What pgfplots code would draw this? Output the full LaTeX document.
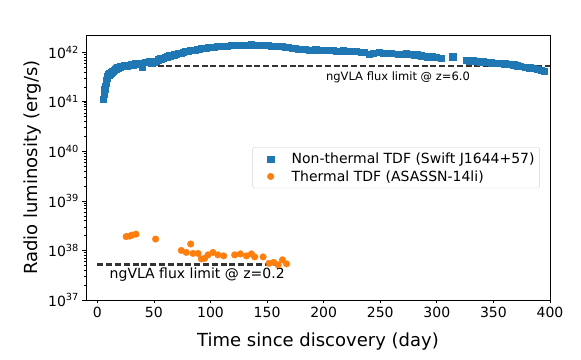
\documentclass[border=0pt]{standalone}
\usepackage{fontspec}
\setmainfont{DejaVu Sans}
\usepackage{pgfplots}
\pgfplotsset{compat=1.18}

\definecolor{tabblue}{HTML}{1F77B4}
\definecolor{taborange}{HTML}{FF7F0E}
\definecolor{limgray}{HTML}{333333}

\pgfplotsset{wideleg/.style={legend image code/.code={%
    \path[draw=none, fill=none] (0pt,-3pt) rectangle (34pt,3pt);
    \draw[##1] plot coordinates {(15pt,0pt)};}}}

\begin{document}
\begin{tikzpicture}
\begin{axis}[
    name=ax,
    scale only axis,
    width=464pt, height=265pt,
    xmin=-10, xmax=400,
    ymode=log, ymin=1e37, ymax=2.24e42,
    xtick={0,50,...,400},
    ytick={1e37,1e38,1e39,1e40,1e41,1e42},
    yticklabels={10\textsuperscript{37},10\textsuperscript{38},10\textsuperscript{39},10\textsuperscript{40},10\textsuperscript{41},10\textsuperscript{42}},
    /pgf/number format/assume math mode=true,
    tick align=outside, tick pos=left,
    major tick length=3.5pt, minor tick length=2pt,
    tick style={black, line width=0.8pt},
    minor tick style={line width=0.6pt},
    tick label style={font=\fontsize{14}{16}\selectfont},
    axis line style={line width=0.8pt},
    xlabel={Time since discovery (day)},
    ylabel={Radio luminosity (erg/s)},
    xlabel style={at={(axis description cs:0.5,-0.155)}, anchor=center, font=\fontsize{18}{20}\selectfont},
    ylabel style={at={(axis description cs:-0.116,0.5)}, anchor=center, font=\fontsize{18}{20}\selectfont},
    legend style={at={(0.978,0.577)}, anchor=north east, draw=gray!35, rounded corners=2pt,
        font=\fontsize{14}{17}\selectfont, inner xsep=3pt, inner ysep=3.5pt, row sep=1.5pt},
    legend cell align=left,
]
\addplot[only marks, wideleg, mark=square*, mark size=3.1pt, color=tabblue, mark options={draw=tabblue, fill=tabblue}] coordinates {
(5.5,1.148e41) (6,1.413e41) (6.5,1.778e41) (7,2.089e41) (7.5,2.399e41) (8,2.692e41) (8.5,2.951e41) (9,3.311e41)
(10,3.548e41) (11,3.715e41) (12,3.890e41) (13,4.074e41) (14,4.169e41) (15,4.365e41) (16,4.571e41) (17,4.677e41)
(18,4.898e41) (19,5.012e41) (20,5.129e41) (22,5.248e41) (24,5.370e41) (26,5.370e41) (28,5.495e41) (30,5.754e41)
(32,5.623e41) (34,5.888e41) (36,6.026e41) (38,5.888e41) (40,5.012e41) (42,6.310e41) (44,6.310e41) (46,6.457e41)
(48,6.166e41) (50,6.457e41) (52,6.607e41) (54,7.079e41) (56,7.413e41) (58,7.586e41) (60,7.943e41) (62,8.128e41)
(64,8.511e41) (66,8.710e41) (68,8.913e41) (70,9.120e41) (72,9.550e41) (74,9.772e41) (76,1.000e42) (78,1.047e42)
(80,1.072e42) (82,1.096e42) (84,1.122e42) (86,1.122e42) (88,1.148e42) (90,1.175e42) (92,1.202e42) (94,1.202e42)
(96,1.230e42) (98,1.259e42) (100,1.259e42) (103,1.288e42) (106,1.318e42) (109,1.318e42) (112,1.349e42) (115,1.349e42)
(118,1.380e42) (121,1.380e42) (124,1.380e42) (127,1.413e42) (130,1.413e42) (133,1.413e42) (136,1.445e42) (139,1.413e42)
(142,1.413e42) (145,1.380e42) (148,1.380e42) (151,1.380e42) (154,1.349e42) (157,1.349e42) (160,1.318e42) (163,1.318e42)
(166,1.288e42) (169,1.259e42) (172,1.230e42) (175,1.202e42) (178,1.175e42) (181,1.148e42) (184,1.148e42) (187,1.122e42)
(190,1.122e42) (193,1.148e42) (196,1.122e42) (199,1.122e42) (202,1.096e42) (205,1.122e42) (208,1.096e42) (211,1.072e42)
(214,1.047e42) (217,1.096e42) (220,1.072e42) (223,1.047e42) (226,1.072e42) (229,1.047e42) (233,1.000e42) (236,1.023e42)
(240,9.333e41) (244,9.772e41) (249,1.000e42) (253,9.772e41) (260,9.550e41) (266,9.333e41) (270,9.333e41) (273,9.550e41)
(276,9.120e41) (280,8.913e41) (283,8.913e41) (286,8.511e41) (289,8.318e41) (292,8.128e41) (296,8.318e41) (299,7.943e41)
(304,7.586e41) (314,8.128e41) (326,6.918e41) (329,6.761e41) (332,6.761e41) (335,6.607e41) (338,6.457e41) (341,6.457e41)
(345,6.310e41) (348,6.166e41) (352,6.026e41) (356,6.026e41) (360,5.888e41) (364,5.754e41) (368,5.623e41) (371,5.370e41)
(374,5.248e41) (378,5.012e41) (382,4.898e41) (385,4.786e41) (389,4.571e41) (392,4.365e41) (395,4.169e41)
};
\addlegendentry{Non-thermal TDF (Swift J1644+57)}
\addplot[only marks, wideleg, mark=*, mark size=3.3pt, color=taborange, mark options={draw=taborange, fill=taborange}] coordinates {
(25.5,1.905e38) (28.5,1.950e38) (30.7,2.042e38) (34.2,2.138e38) (51.5,1.698e38) (74.2,1.000e38) (78.6,9.12e37)
(82.5,1.349e38) (84.5,8.71e37) (89,8.71e37) (91.9,6.76e37) (94.9,6.92e37) (97.8,8.13e37) (102.2,9.12e37)
(106.6,8.13e37) (111.7,7.76e37) (121.4,8.13e37) (126.4,8.51e37) (131.8,7.76e37) (136.2,8.51e37) (139.1,7.41e37)
(146.5,7.41e37) (151.8,5.50e37) (155.9,5.75e37) (159.8,5.13e37) (163.6,6.46e37) (167.2,5.37e37)
};
\addlegendentry{Thermal TDF (ASASSN-14li)}
\addplot[forget plot, limgray, line width=2.2pt, dash pattern=on 6pt off 2.8pt] coordinates {(30,5.2e41) (400,5.2e41)};
\addplot[forget plot, limgray, line width=2.2pt, dash pattern=on 6pt off 2.8pt] coordinates {(0,5.2e37) (160,5.2e37)};
\node[anchor=base west, inner sep=0pt, font=\fontsize{11.5}{13}\selectfont] at (axis cs:202,2.65e41) {ngVLA flux limit @ z=6.0};
\node[anchor=base west, inner sep=0pt, font=\fontsize{14}{16}\selectfont] at (axis cs:10.8,2.72e37) {ngVLA flux limit @ z=0.2};
\end{axis}
\pgfresetboundingbox
\path[use as bounding box] ([xshift=-86pt,yshift=-59pt]ax.south west) rectangle ([xshift=31pt,yshift=35pt]ax.north east);
\end{tikzpicture}
\end{document}
